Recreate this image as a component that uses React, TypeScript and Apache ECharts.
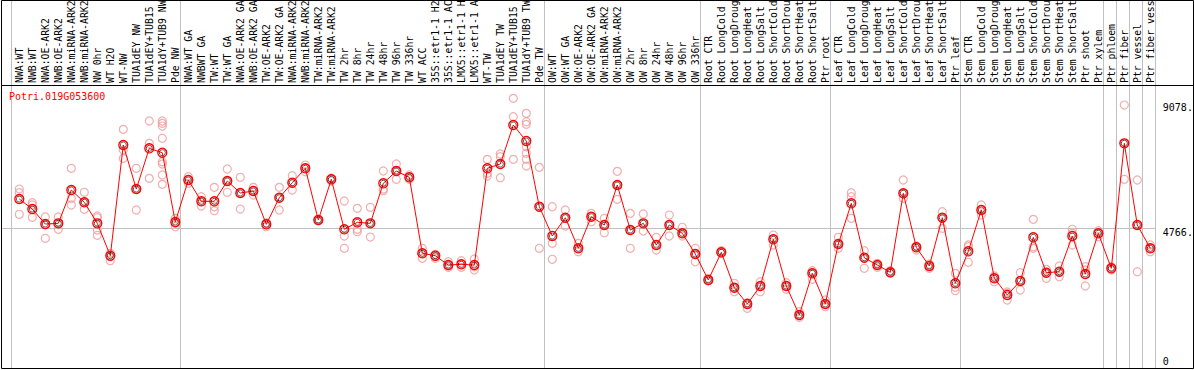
import React, { useEffect, useRef } from "react";
import * as echarts from "echarts";

const geneId = "Potri.019G053600";

const categories = [
  "NWA:WT", "NWB:WT", "NWA:OE-ARK2", "NWB:OE-ARK2", "NWA:miRNA-ARK2", "NWB:miRNA-ARK2",
  "NW 0hr", "WT H2O", "WT-NW", "TUA1dEY NW", "TUA1dEY+TUB15 NW", "TUA1dY+TUB9 NW", "Pde NW",
  "NWA:WT GA", "NWBWT GA", "TW:WT", "TW:WT GA", "NWA:OE-ARK2 GA", "NWB:OE-ARK2 GA",
  "TW:OE-ARK2", "TW:OE-ARK2 GA", "NWA:miRNA-ARK2", "NWB:miRNA-ARK2", "TW:miRNA-ARK2",
  "TW:miRNA-ARK2", "TW 2hr", "TW 8hr", "TW 24hr", "TW 48hr", "TW 96hr", "TW 336hr", "WT ACC",
  "35S::etr1-1 H2O", "35S::etr1-1 ACC", "LMX5::etr1-1 H2O", "LMX5::etr1-1 ACC", "WT-TW",
  "TUA1dEY TW", "TUA1dEY+TUB15 TW", "TUA1dY+TUB9 TW", "Pde TW",
  "OW:WT", "OW:WT GA", "OW:OE-ARK2", "OW:OE-ARK2 GA", "OW:miRNA-ARK2", "OW:miRNA-ARK2",
  "OW 2hr", "OW 8hr", "OW 24hr", "OW 48hr", "OW 96hr", "OW 336hr",
  "Root CTR", "Root LongCold", "Root LongDrought", "Root LongHeat", "Root LongSalt",
  "Root ShortCold", "Root ShortDrought", "Root ShortHeat", "Root ShortSalt", "Ptr root",
  "Leaf CTR", "Leaf LongCold", "Leaf LongDrought", "Leaf LongHeat", "Leaf LongSalt",
  "Leaf ShortCold", "Leaf ShortDrought", "Leaf ShortHeat", "Leaf ShortSalt", "Ptr leaf",
  "Stem CTR", "Stem LongCold", "Stem LongDrought", "Stem LongHeat", "Stem LongSalt",
  "Stem ShortCold", "Stem ShortDrought", "Stem ShortHeat", "Stem ShortSalt", "Ptr shoot",
  "Ptr xylem", "Ptr phloem", "Ptr fiber", "Ptr vessel", "Ptr fiber vessel",
];

// first category index of each group (vertical separators)
const groupStarts = [0, 13, 41, 53, 63, 73, 84, 85, 86, 87];

const means = [
  5755, 5410, 4893, 4917, 6065, 5641, 4917, 3801, 7616, 6099, 7502, 7350, 4962,
  6410, 5676, 5676, 6375, 5962, 6031, 4883, 5800, 6317, 6813, 5031, 6434, 4711, 4952, 4917,
  6296, 6720, 6503, 3884, 3801, 3480, 3505, 3480, 6813, 6961, 8305, 7754, 5489,
  4480, 5110, 4056, 5145, 4859, 6237, 4687, 4917, 4170, 4859, 4573, 3860,
  2964, 3918, 2698, 2137, 2757, 4366, 2757, 1757, 3194, 2137,
  4204, 5607, 3732, 3480, 3229, 5951, 4090, 3446, 5110, 2850,
  3953, 5376, 3022, 2447, 2929, 4435, 3215, 3250, 4480, 3170, 4573,
  3367, 7674, 4859, 4056,
];

const replicates = [
  [6099, 5972, 5228], [5627, 5548, 5124], [5135, 4869, 4401], [5135, 4917, 4711],
  [6813, 5779, 5548], [5986, 5641, 5400], [5169, 5110, 4687, 4504], [3884, 3767, 3629],
  [8157, 7443, 7157], [6813, 6099, 5376], [8443, 7674, 6468],
  [8443, 8363, 8270, 7847, 7040, 6961, 6582, 6261], [5090, 4917, 4800],
  [6523, 6410, 6296], [5834, 5676, 5514], [6158, 5489, 5352], [6789, 6375, 5986],
  [6503, 5962, 5410], [6158, 6031, 5893], [4938, 4883, 4800], [6158, 5800, 5376],
  [6558, 6317, 6065], [6926, 6813, 6696], [5055, 5031, 5007], [6479, 6434, 6375],
  [5686, 4480, 4056], [5434, 4711, 4628], [5469, 4917, 4445], [6720, 6099, 6041],
  [6961, 6720, 6434], [6582, 6503, 6434], [4056, 3884, 3711], [3849, 3767, 3711],
  [3594, 3480, 3401], [3629, 3505, 3401], [3687, 3422, 3308], [7123, 6641, 6547],
  [7306, 7213, 6489], [9225, 8591, 7123],
  [8708, 8419, 8329, 7557, 7330, 7123, 6892], [6847, 5489, 4056],
  [5489, 4228, 3677], [5376, 5110, 4824], [4228, 4056, 3939], [5262, 5145, 4973],
  [5090, 4859, 4594], [6709, 6237, 5744], [5262, 4687, 4056], [5238, 4917, 4652],
  [4435, 4170, 3997], [5203, 4859, 4480], [4780, 4573, 4480], [4056, 3860, 3594],
  [3022, 2964, 2939], [3973, 3918, 3884], [2850, 2698, 2560], [2181, 2137, 1988],
  [2905, 2757, 2560], [4514, 4366, 4170], [2871, 2757, 2643], [1871, 1757, 1678],
  [3284, 3194, 2988], [2274, 2137, 2043],
  [4435, 4204, 4056], [5972, 5834, 5090], [3973, 3732, 3367], [3539, 3480, 3401],
  [3284, 3229, 3194], [6410, 5951, 5779], [4135, 4090, 3997], [3515, 3446, 3367],
  [5317, 5110, 4745], [3194, 2712, 2595],
  [4170, 4111, 3574], [5548, 5376, 5203], [3101, 3022, 2905], [2550, 2505, 2274],
  [3215, 2929, 2619], [5055, 4111, 4056], [3332, 3215, 3022], [3446, 3250, 3077],
  [4711, 4573, 4170], [3422, 3308, 2757], [4663, 4573, 4456],
  [3422, 3367, 3308], [8994, 7674, 6434], [6410, 4859, 3250], [4170, 4056, 3939],
];

const yTickUpper = [4766, 9078];
const yTickLower = [0];
const yMax = 9650;

const MONO = "'DejaVu Sans Mono', monospace";

export default function App() {
  const ref = useRef<HTMLDivElement>(null);

  useEffect(() => {
    document.body.style.margin = "0";
    const chart = echarts.init(ref.current!, null, { renderer: "svg" });
    const repData: [number, number][] = [];
    replicates.forEach((r, i) => r.forEach((v) => repData.push([i, v])));

    chart.setOption({
      animation: false,
      backgroundColor: "#fff",
      title: {
        text: geneId,
        left: 9,
        top: 91,
        padding: 0,
        textStyle: { fontFamily: MONO, fontSize: 10, fontWeight: "normal", color: "#ff0000" },
      },
      grid: {
        left: 12.8,
        top: 86,
        width: 1144,
        height: 280,
        containLabel: false,
        outerBoundsMode: "none",
      },
      xAxis: {
        type: "category",
        position: "top",
        data: categories,
        boundaryGap: true,
        axisLine: { show: false },
        axisTick: { show: false },
        splitLine: { show: false },
        axisLabel: {
          interval: 0,
          rotate: 90,
          margin: 3,
          align: "left",
          verticalAlign: "middle",
          width: 86,
          overflow: "truncate",
          ellipsis: "",
          fontFamily: MONO,
          fontSize: 9.8,
          color: "#000",
        },
      },
      yAxis: [
        {
          type: "value",
          position: "right",
          min: 0,
          max: yMax,
          axisLine: { show: false },
          axisTick: { show: false },
          splitLine: { show: false },
          axisLabel: {
            customValues: yTickUpper,
            formatter: (v: number) => v + ".",
            margin: 6,
            verticalAlign: "top",
            fontFamily: MONO,
            fontSize: 10,
            color: "#000",
          },
        },
        {
          type: "value",
          position: "right",
          min: 0,
          max: yMax,
          axisLine: { show: false },
          axisTick: { show: false },
          splitLine: { show: false },
          axisLabel: {
            customValues: yTickLower,
            formatter: (v: number) => String(v),
            margin: 6,
            verticalAlign: "bottom",
            fontFamily: MONO,
            fontSize: 10,
            color: "#000",
          },
        },
      ],
      series: [
        {
          type: "scatter",
          data: repData,
          symbol: "circle",
          symbolSize: 8,
          z: 2,
          itemStyle: { color: "rgba(0,0,0,0)", borderColor: "#ee9a9a", borderWidth: 1.2 },
          silent: true,
        },
        {
          type: "line",
          data: means,
          z: 3,
          symbol: "circle",
          symbolSize: 9,
          showSymbol: true,
          lineStyle: { color: "#ff0000", width: 1 },
          itemStyle: { color: "rgba(0,0,0,0)", borderColor: "#ff0000", borderWidth: 1.3 },
          silent: true,
        },
        {
          type: "scatter",
          data: means.map((v, i) => [i, v]),
          z: 4,
          symbol: "circle",
          symbolSize: 6,
          itemStyle: { color: "rgba(0,0,0,0)", borderColor: "#000", borderWidth: 0.8 },
          silent: true,
        },
      ],
    });

    const cx = (i: number) => chart.convertToPixel({ xAxisIndex: 0 }, i) as number;
    const gy = chart.convertToPixel({ yAxisIndex: 0 }, yTickUpper[0]) as number;
    const sepXs = groupStarts.map((i) => Math.round(cx(i) - 8.5) + 0.5);
    sepXs.push(Math.round(cx(categories.length - 1) + 5) + 0.5);
    const gray = "#c0c0c0";
    const graphics: any[] = sepXs.map((x) => ({
      type: "line",
      z: -1,
      silent: true,
      shape: { x1: x, y1: 0, x2: x, y2: 368 },
      style: { stroke: gray, lineWidth: 1 },
    }));
    const endX = sepXs[sepXs.length - 1];
    graphics.push({
      type: "line",
      z: -1,
      silent: true,
      shape: { x1: 2, y1: Math.round(gy) + 0.5, x2: endX, y2: Math.round(gy) + 0.5 },
      style: { stroke: gray, lineWidth: 1 },
    });
    graphics.push({
      type: "line",
      z: 10,
      silent: true,
      shape: { x1: 1, y1: 85.5, x2: 1194, y2: 85.5 },
      style: { stroke: "#000", lineWidth: 1 },
    });
    graphics.push({
      type: "rect",
      z: 10,
      silent: true,
      shape: { x: 1.5, y: 0.5, width: 1192, height: 368 },
      style: { fill: "none", stroke: "#000", lineWidth: 1 },
    });
    chart.setOption({ graphic: graphics });

    return () => chart.dispose();
  }, []);

  return (
    <div
      ref={ref}
      style={{ position: "absolute", left: 0, top: 0, width: 1194, height: 370 }}
    />
  );
}
